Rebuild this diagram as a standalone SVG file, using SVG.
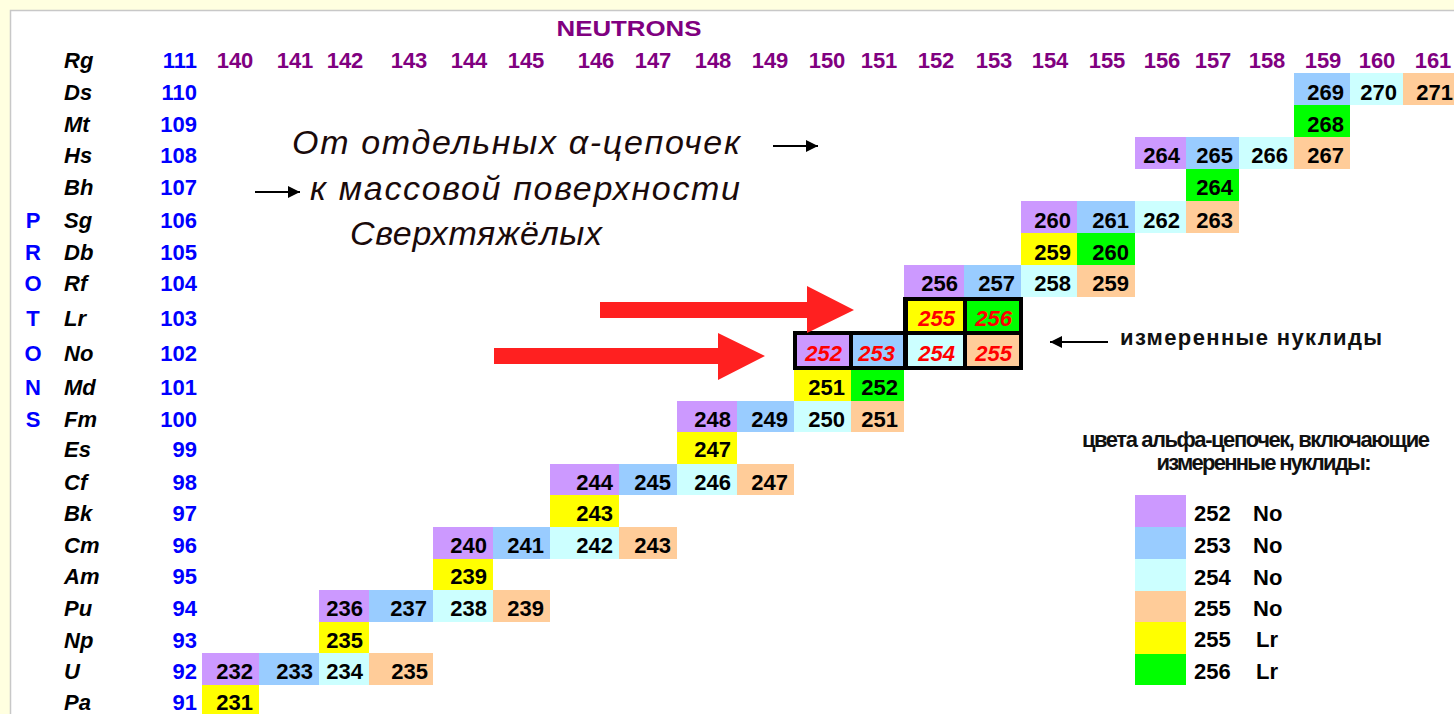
<svg xmlns="http://www.w3.org/2000/svg" width="1454" height="714" viewBox="0 0 1454 714">
<style>
text{font-family:"Liberation Sans",Arial,sans-serif;font-weight:bold;font-size:22px}
.c{text-anchor:end;fill:#000}
.r{text-anchor:end;fill:#FF0000;font-style:italic}
.h{text-anchor:middle;fill:#800080}
.pn{text-anchor:end;fill:#0000FF}
.el{font-style:italic;fill:#000}
.pl{text-anchor:middle;fill:#0000FF}
.pu{fill:#CC99FF}.bl{fill:#99CCFF}.cy{fill:#CCFFFF}.or{fill:#FFCC99}.ye{fill:#FFFF00}.gr{fill:#00FF00}
.it{font-weight:normal;font-style:italic;font-size:34px;fill:#1a0a0a}
.ann{fill:#111}
.lg{fill:#000}
</style>
<defs>
<marker id="ah" viewBox="0 0 10 10" refX="10" refY="5" markerWidth="15" markerHeight="12" markerUnits="userSpaceOnUse" orient="auto"><path d="M0,0 L10,5 L0,10 Z" fill="#000"/></marker>
</defs>
<rect x="0" y="0" width="1454" height="714" fill="#FFFFE0"/>
<rect x="10.5" y="10.5" width="1450" height="710" fill="#FFFFFF" stroke="#C8C8C8" stroke-width="1.5"/>

<g id="title">
<text x="629" y="36" class="h" font-size="26" textLength="145" lengthAdjust="spacingAndGlyphs">NEUTRONS</text>
</g>

<g id="neutron-axis">
<text x="235" y="68" class="h">140</text>
<text x="295" y="68" class="h">141</text>
<text x="345" y="68" class="h">142</text>
<text x="409" y="68" class="h">143</text>
<text x="469" y="68" class="h">144</text>
<text x="526" y="68" class="h">145</text>
<text x="596" y="68" class="h">146</text>
<text x="653" y="68" class="h">147</text>
<text x="713" y="68" class="h">148</text>
<text x="770" y="68" class="h">149</text>
<text x="827" y="68" class="h">150</text>
<text x="879" y="68" class="h">151</text>
<text x="936" y="68" class="h">152</text>
<text x="994" y="68" class="h">153</text>
<text x="1050" y="68" class="h">154</text>
<text x="1107" y="68" class="h">155</text>
<text x="1162" y="68" class="h">156</text>
<text x="1213" y="68" class="h">157</text>
<text x="1267" y="68" class="h">158</text>
<text x="1323" y="68" class="h">159</text>
<text x="1377" y="68" class="h">160</text>
<text x="1433" y="68" class="h">161</text>
</g>

<g id="proton-axis">
<text x="33" y="228" class="pl">P</text>
<text x="33" y="260" class="pl">R</text>
<text x="33" y="291" class="pl">O</text>
<text x="33" y="326" class="pl">T</text>
<text x="33" y="361" class="pl">O</text>
<text x="33" y="395" class="pl">N</text>
<text x="33" y="427" class="pl">S</text>
<text x="64" y="68" class="el">Rg</text><text x="197" y="68" class="pn">111</text>
<text x="64" y="100" class="el">Ds</text><text x="197" y="100" class="pn">110</text>
<text x="64" y="132" class="el">Mt</text><text x="197" y="132" class="pn">109</text>
<text x="64" y="163" class="el">Hs</text><text x="197" y="163" class="pn">108</text>
<text x="64" y="195" class="el">Bh</text><text x="197" y="195" class="pn">107</text>
<text x="64" y="228" class="el">Sg</text><text x="197" y="228" class="pn">106</text>
<text x="64" y="260" class="el">Db</text><text x="197" y="260" class="pn">105</text>
<text x="64" y="291" class="el">Rf</text><text x="197" y="291" class="pn">104</text>
<text x="64" y="326" class="el">Lr</text><text x="197" y="326" class="pn">103</text>
<text x="64" y="361" class="el">No</text><text x="197" y="361" class="pn">102</text>
<text x="64" y="395" class="el">Md</text><text x="197" y="395" class="pn">101</text>
<text x="64" y="427" class="el">Fm</text><text x="197" y="427" class="pn">100</text>
<text x="64" y="457" class="el">Es</text><text x="197" y="457" class="pn">99</text>
<text x="64" y="490" class="el">Cf</text><text x="197" y="490" class="pn">98</text>
<text x="64" y="521" class="el">Bk</text><text x="197" y="521" class="pn">97</text>
<text x="64" y="553" class="el">Cm</text><text x="197" y="553" class="pn">96</text>
<text x="64" y="584" class="el">Am</text><text x="197" y="584" class="pn">95</text>
<text x="64" y="616" class="el">Pu</text><text x="197" y="616" class="pn">94</text>
<text x="64" y="648" class="el">Np</text><text x="197" y="648" class="pn">93</text>
<text x="64" y="679" class="el">U</text><text x="197" y="679" class="pn">92</text>
<text x="64" y="710" class="el">Pa</text><text x="197" y="710" class="pn">91</text>
</g>

<g id="cells-ds">
<g id="n269"><rect x="1294" y="73" width="56" height="32" class="bl"/><text x="1344" y="100" class="c">269</text></g>
<g id="n270"><rect x="1350" y="73" width="53" height="32" class="cy"/><text x="1397" y="100" class="c">270</text></g>
<g id="n271"><rect x="1403" y="73" width="56" height="32" class="or"/><text x="1453" y="100" class="c">271</text></g>
</g>
<g id="cells-mt">
<g id="n268"><rect x="1294" y="105" width="56" height="32" class="gr"/><text x="1344" y="132" class="c">268</text></g>
</g>
<g id="cells-hs">
<g id="n264hs"><rect x="1135" y="137" width="51" height="32" class="pu"/><text x="1180" y="163" class="c">264</text></g>
<g id="n265hs"><rect x="1186" y="137" width="53" height="32" class="bl"/><text x="1233" y="163" class="c">265</text></g>
<g id="n266hs"><rect x="1239" y="137" width="55" height="32" class="cy"/><text x="1288" y="163" class="c">266</text></g>
<g id="n267hs"><rect x="1294" y="137" width="56" height="32" class="or"/><text x="1344" y="163" class="c">267</text></g>
</g>
<g id="cells-bh">
<g id="n264bh"><rect x="1186" y="169" width="53" height="32" class="gr"/><text x="1233" y="195" class="c">264</text></g>
</g>
<g id="cells-sg">
<g id="n260sg"><rect x="1021" y="201" width="56" height="32" class="pu"/><text x="1071" y="228" class="c">260</text></g>
<g id="n261sg"><rect x="1077" y="201" width="58" height="32" class="bl"/><text x="1129" y="228" class="c">261</text></g>
<g id="n262sg"><rect x="1135" y="201" width="51" height="32" class="cy"/><text x="1180" y="228" class="c">262</text></g>
<g id="n263sg"><rect x="1186" y="201" width="53" height="32" class="or"/><text x="1233" y="228" class="c">263</text></g>
</g>
<g id="cells-db">
<g id="n259db"><rect x="1021" y="233" width="56" height="32" class="ye"/><text x="1071" y="260" class="c">259</text></g>
<g id="n260db"><rect x="1077" y="233" width="58" height="32" class="gr"/><text x="1129" y="260" class="c">260</text></g>
</g>
<g id="cells-rf">
<g id="n256rf"><rect x="904" y="265" width="60" height="32" class="pu"/><text x="958" y="291" class="c">256</text></g>
<g id="n257rf"><rect x="964" y="265" width="57" height="32" class="bl"/><text x="1015" y="291" class="c">257</text></g>
<g id="n258rf"><rect x="1021" y="265" width="56" height="32" class="cy"/><text x="1071" y="291" class="c">258</text></g>
<g id="n259rf"><rect x="1077" y="265" width="58" height="32" class="or"/><text x="1129" y="291" class="c">259</text></g>
</g>

<g id="measured-box">
<path d="M903,297 H1023 V370 H793 V331 H903 Z" fill="#000"/>
<g id="n255lr"><rect x="908" y="301" width="55" height="30" class="ye"/><text x="955" y="326" class="r">255</text></g>
<g id="n256lr"><rect x="967" y="301" width="52" height="30" class="gr"/><text x="1012" y="326" class="r">256</text></g>
<g id="n252no"><rect x="797" y="335" width="52" height="31" class="pu"/><text x="842" y="361" class="r">252</text></g>
<g id="n253no"><rect x="853" y="335" width="50" height="31" class="bl"/><text x="895" y="361" class="r">253</text></g>
<g id="n254no"><rect x="908" y="335" width="55" height="31" class="cy"/><text x="955" y="361" class="r">254</text></g>
<g id="n255no"><rect x="967" y="335" width="52" height="31" class="or"/><text x="1012" y="361" class="r">255</text></g>
</g>

<g id="cells-md">
<g id="n251md"><rect x="794" y="370" width="57" height="31" class="ye"/><text x="845" y="395" class="c">251</text></g>
<g id="n252md"><rect x="851" y="370" width="53" height="31" class="gr"/><text x="898" y="395" class="c">252</text></g>
</g>
<g id="cells-fm">
<g id="n248fm"><rect x="677" y="401" width="60" height="31" class="pu"/><text x="731" y="427" class="c">248</text></g>
<g id="n249fm"><rect x="737" y="401" width="57" height="31" class="bl"/><text x="788" y="427" class="c">249</text></g>
<g id="n250fm"><rect x="794" y="401" width="57" height="31" class="cy"/><text x="845" y="427" class="c">250</text></g>
<g id="n251fm"><rect x="851" y="401" width="53" height="31" class="or"/><text x="898" y="427" class="c">251</text></g>
</g>
<g id="cells-es">
<g id="n247es"><rect x="677" y="432" width="60" height="32" class="ye"/><text x="731" y="457" class="c">247</text></g>
</g>
<g id="cells-cf">
<g id="n244cf"><rect x="550" y="464" width="69" height="31" class="pu"/><text x="613" y="490" class="c">244</text></g>
<g id="n245cf"><rect x="619" y="464" width="58" height="31" class="bl"/><text x="671" y="490" class="c">245</text></g>
<g id="n246cf"><rect x="677" y="464" width="60" height="31" class="cy"/><text x="731" y="490" class="c">246</text></g>
<g id="n247cf"><rect x="737" y="464" width="57" height="31" class="or"/><text x="788" y="490" class="c">247</text></g>
</g>
<g id="cells-bk">
<g id="n243bk"><rect x="550" y="495" width="69" height="32" class="ye"/><text x="613" y="521" class="c">243</text></g>
</g>
<g id="cells-cm">
<g id="n240cm"><rect x="433" y="527" width="60" height="32" class="pu"/><text x="487" y="553" class="c">240</text></g>
<g id="n241cm"><rect x="493" y="527" width="57" height="32" class="bl"/><text x="544" y="553" class="c">241</text></g>
<g id="n242cm"><rect x="550" y="527" width="69" height="32" class="cy"/><text x="613" y="553" class="c">242</text></g>
<g id="n243cm"><rect x="619" y="527" width="58" height="32" class="or"/><text x="671" y="553" class="c">243</text></g>
</g>
<g id="cells-am">
<g id="n239am"><rect x="433" y="559" width="60" height="31" class="ye"/><text x="487" y="584" class="c">239</text></g>
</g>
<g id="cells-pu">
<g id="n236pu"><rect x="319" y="590" width="50" height="32" class="pu"/><text x="363" y="616" class="c">236</text></g>
<g id="n237pu"><rect x="369" y="590" width="64" height="32" class="bl"/><text x="427" y="616" class="c">237</text></g>
<g id="n238pu"><rect x="433" y="590" width="60" height="32" class="cy"/><text x="487" y="616" class="c">238</text></g>
<g id="n239pu"><rect x="493" y="590" width="57" height="32" class="or"/><text x="544" y="616" class="c">239</text></g>
</g>
<g id="cells-np">
<g id="n235np"><rect x="319" y="622" width="50" height="31" class="ye"/><text x="363" y="648" class="c">235</text></g>
</g>
<g id="cells-u">
<g id="n232u"><rect x="202" y="653" width="57" height="32" class="pu"/><text x="253" y="679" class="c">232</text></g>
<g id="n233u"><rect x="259" y="653" width="60" height="32" class="bl"/><text x="313" y="679" class="c">233</text></g>
<g id="n234u"><rect x="319" y="653" width="50" height="32" class="cy"/><text x="363" y="679" class="c">234</text></g>
<g id="n235u"><rect x="369" y="653" width="64" height="32" class="or"/><text x="428" y="679" class="c">235</text></g>
</g>
<g id="cells-pa">
<g id="n231pa"><rect x="202" y="685" width="57" height="31" class="ye"/><text x="253" y="710" class="c">231</text></g>
</g>

<g id="heading">
<text x="292" y="154" class="it" textLength="448" lengthAdjust="spacing">От отдельных α-цепочек</text>
<text x="310" y="200" class="it" textLength="430" lengthAdjust="spacing">к массовой поверхности</text>
<text x="350" y="245" class="it" textLength="252" lengthAdjust="spacing">Сверхтяжёлых</text>
</g>

<g id="annotation">
<text x="1120" y="345" class="ann" font-size="22" textLength="262" lengthAdjust="spacing">измеренные нуклиды</text>
</g>

<g id="legend">
<text x="1256" y="447" class="ann" font-size="16.5" text-anchor="middle" textLength="348" lengthAdjust="spacing">цвета альфа-цепочек, включающие</text>
<text x="1264" y="470" class="ann" font-size="16.5" text-anchor="middle" textLength="215" lengthAdjust="spacing">измеренные нуклиды:</text>
<g id="lg1"><rect x="1135" y="495" width="51" height="32" class="pu"/><text x="1194" y="521" class="lg">252</text><text x="1253" y="521" class="lg">No</text></g>
<g id="lg2"><rect x="1135" y="527" width="51" height="32" class="bl"/><text x="1194" y="553" class="lg">253</text><text x="1253" y="553" class="lg">No</text></g>
<g id="lg3"><rect x="1135" y="559" width="51" height="32" class="cy"/><text x="1194" y="585" class="lg">254</text><text x="1253" y="585" class="lg">No</text></g>
<g id="lg4"><rect x="1135" y="591" width="51" height="31" class="or"/><text x="1194" y="616" class="lg">255</text><text x="1253" y="616" class="lg">No</text></g>
<g id="lg5"><rect x="1135" y="622" width="51" height="32" class="ye"/><text x="1194" y="647" class="lg">255</text><text x="1256" y="647" class="lg">Lr</text></g>
<g id="lg6"><rect x="1135" y="654" width="51" height="31" class="gr"/><text x="1194" y="679" class="lg">256</text><text x="1256" y="679" class="lg">Lr</text></g>
</g>

<g id="connectors">
<polygon points="600,302 807,302 807,286 854,310 807,333 807,318 600,318" fill="#FF2020"/>
<polygon points="494,348 718,348 718,333 765,356 718,380 718,364 494,364" fill="#FF2020"/>
<line x1="773" y1="146" x2="818" y2="146" stroke="#000" stroke-width="2" marker-end="url(#ah)"/>
<line x1="255" y1="192" x2="300" y2="192" stroke="#000" stroke-width="2" marker-end="url(#ah)"/>
<line x1="1108" y1="342" x2="1050" y2="342" stroke="#000" stroke-width="2" marker-end="url(#ah)"/>
</g>
</svg>
